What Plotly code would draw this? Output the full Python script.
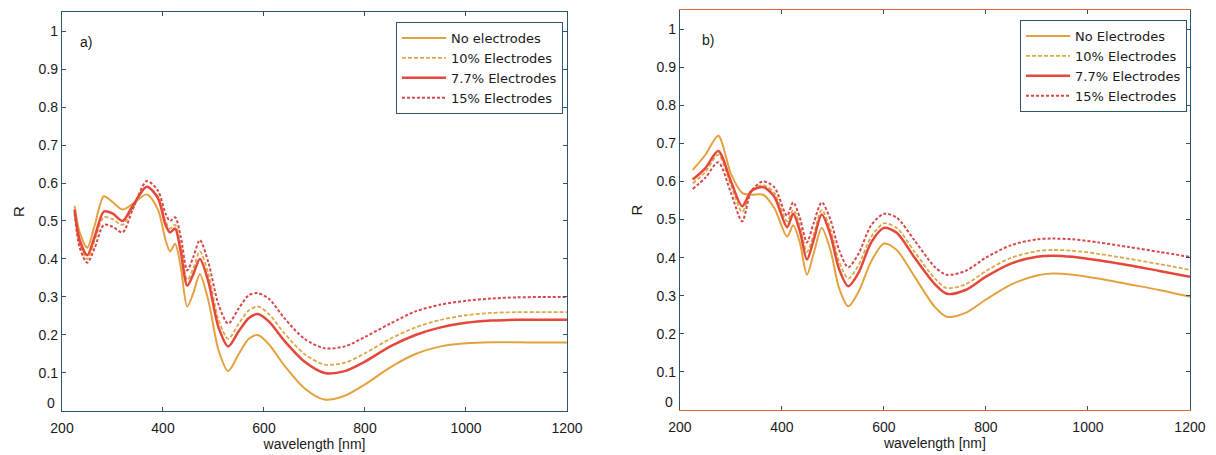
import plotly.graph_objects as go

# ---------------- data: panel a) ----------------
wl_a = [225, 235, 250, 265, 283, 300, 320, 340, 368, 390, 405, 414, 424, 435, 448, 460, 473, 490,
        510, 529, 550, 570, 588, 610, 640, 680, 720, 760, 800, 850, 900, 950, 1000, 1050, 1100, 1150, 1200]
a_none = [0.54, 0.47, 0.43, 0.49, 0.565, 0.55, 0.53, 0.545, 0.57, 0.53, 0.45, 0.42, 0.44, 0.38, 0.275, 0.31, 0.36, 0.29,
          0.16, 0.105, 0.15, 0.19, 0.2, 0.175, 0.12, 0.06, 0.03, 0.04, 0.07, 0.115, 0.15, 0.17, 0.178, 0.181, 0.181, 0.18, 0.18]
a_10 = [0.525, 0.44, 0.40, 0.45, 0.51, 0.505, 0.49, 0.535, 0.59, 0.565, 0.5, 0.48, 0.49, 0.435, 0.345, 0.375, 0.42, 0.36,
        0.24, 0.19, 0.23, 0.265, 0.275, 0.255, 0.205, 0.15, 0.122, 0.127, 0.152, 0.19, 0.22, 0.24, 0.252, 0.258, 0.26, 0.26, 0.26]
a_77 = [0.53, 0.45, 0.41, 0.46, 0.525, 0.52, 0.5, 0.54, 0.59, 0.56, 0.49, 0.47, 0.48, 0.42, 0.33, 0.36, 0.4, 0.34,
        0.22, 0.17, 0.21, 0.245, 0.255, 0.235, 0.185, 0.13, 0.1, 0.105, 0.13, 0.17, 0.2, 0.22, 0.232, 0.238, 0.24, 0.24, 0.24]
a_15 = [0.52, 0.43, 0.39, 0.43, 0.49, 0.485, 0.47, 0.53, 0.605, 0.58, 0.52, 0.5, 0.51, 0.46, 0.37, 0.405, 0.45, 0.39,
        0.28, 0.23, 0.27, 0.305, 0.31, 0.295, 0.245, 0.19, 0.165, 0.17, 0.195, 0.23, 0.262, 0.28, 0.29, 0.296, 0.299, 0.3, 0.3]

# ---------------- data: panel b) ----------------
wl_b = [225, 250, 275, 300, 322, 340, 363, 385, 410, 422, 435, 449, 462, 478, 495, 512, 530, 550, 575, 600,
        625, 660, 700, 723, 760, 800, 850, 900, 930, 970, 1020, 1080, 1140, 1200]
b_none = [0.63, 0.67, 0.72, 0.62, 0.57, 0.565, 0.565, 0.53, 0.455, 0.485, 0.44, 0.355, 0.41, 0.478, 0.42, 0.32, 0.272, 0.31, 0.39, 0.437,
          0.42, 0.35, 0.27, 0.245, 0.255, 0.29, 0.33, 0.353, 0.358, 0.355, 0.345, 0.33, 0.315, 0.297]
b_10 = [0.595, 0.625, 0.67, 0.59, 0.52, 0.575, 0.59, 0.57, 0.495, 0.525, 0.485, 0.415, 0.46, 0.525, 0.475, 0.39, 0.345, 0.38, 0.455, 0.49,
        0.478, 0.415, 0.345, 0.32, 0.33, 0.365, 0.4, 0.417, 0.42, 0.418, 0.41, 0.397, 0.383, 0.368]
b_77 = [0.605, 0.635, 0.68, 0.6, 0.535, 0.575, 0.585, 0.56, 0.48, 0.515, 0.47, 0.395, 0.445, 0.513, 0.46, 0.37, 0.325, 0.36, 0.44, 0.478,
        0.465, 0.4, 0.33, 0.305, 0.315, 0.35, 0.385, 0.402, 0.405, 0.402, 0.393, 0.38, 0.365, 0.35]
b_15 = [0.58, 0.61, 0.65, 0.57, 0.495, 0.575, 0.6, 0.585, 0.51, 0.545, 0.505, 0.44, 0.49, 0.545, 0.5, 0.42, 0.375, 0.41, 0.485, 0.515,
        0.505, 0.445, 0.375, 0.355, 0.365, 0.4, 0.433, 0.448, 0.45, 0.448, 0.44, 0.428, 0.415, 0.402]

names_a = ["No electrodes", "10% Electrodes", "7.7% Electrodes", "15% Electrodes"]
names_b = ["No Electrodes", "10% Electrodes", "7.7% Electrodes", "15% Electrodes"]
x_ticks = [200, 400, 600, 800, 1000, 1200]
y_ticks = [0.1, 0.2, 0.3, 0.4, 0.5, 0.6, 0.7, 0.8, 0.9, 1]
y_ticktext = ["0.1", "0.2", "0.3", "0.4", "0.5", "0.6", "0.7", "0.8", "0.9", "1"]

GOLD = "#E4A23F"
GOLD_D = "#D9A94A"
RED = "#E5473A"
RED_D = "#D8474A"
AXC = "#2C5570"
AXC_B = "#E0603A"
FONT = "Liberation Sans, Arial, sans-serif"
LFONT = "DejaVu Sans, sans-serif"
TXT = "#1a1a1a"

styles = [
    dict(color=GOLD, width=2),
    dict(color=GOLD_D, width=1.8, dash="4px,2px"),
    dict(color=RED, width=2.5),
    dict(color=RED_D, width=2, dash="3px,2px"),
]

fig = go.Figure()
for name, ys, st in zip(names_a, [a_none, a_10, a_77, a_15], styles):
    fig.add_trace(go.Scatter(x=wl_a, y=ys, name=name, mode="lines", line=dict(shape="spline", smoothing=0.8, **st),
                             xaxis="x", yaxis="y", legend="legend"))
for name, ys, st in zip(names_b, [b_none, b_10, b_77, b_15], styles):
    fig.add_trace(go.Scatter(x=wl_b, y=ys, name=name, mode="lines", line=dict(shape="spline", smoothing=0.8, **st),
                             xaxis="x2", yaxis="y2", legend="legend2"))

axis_common = dict(linewidth=1.2, mirror="allticks", ticks="inside", showline=True,
                   ticklen=4, tickcolor=AXC, showgrid=False, zeroline=False, automargin=False,
                   tickfont=dict(family=FONT, size=14, color=TXT))
xcommon = dict(range=[200, 1200], tickvals=x_ticks, ticklabelstandoff=4,
               title=dict(text="wavelength [nm]", standoff=2, font=dict(family=FONT, size=14, color=TXT)),
               **axis_common)
ycommon = dict(range=[0, 1.05], tickvals=y_ticks, ticktext=y_ticktext, linecolor=AXC,
               title=dict(text="R", standoff=10, font=dict(family=FONT, size=15, color=TXT)), **axis_common)

legend_common = dict(bgcolor="white", bordercolor=AXC, borderwidth=1, xanchor="right", yanchor="top",
                     font=dict(family=LFONT, size=13, color=TXT), tracegroupgap=0, itemwidth=44)

zero_font = dict(family=FONT, size=14, color=TXT)

fig.update_layout(
    width=1216, height=455, margin=dict(l=0, r=0, t=0, b=0, autoexpand=False),
    paper_bgcolor="white", plot_bgcolor="white",
    xaxis=dict(domain=[0.0444, 0.4597], anchor="y", linecolor=AXC, **xcommon),
    yaxis=dict(domain=[0.1143, 0.9912], anchor="x", **ycommon),
    xaxis2=dict(domain=[0.5526, 0.9720], anchor="y2", linecolor=AXC_B, **xcommon),
    yaxis2=dict(domain=[0.1165, 0.9956], anchor="x2", **ycommon),
    legend=dict(x=0.4564, y=0.969, **legend_common),
    legend2=dict(x=0.9696, y=0.9736, **legend_common),
    annotations=[
        dict(text="a)", x=248, y=0.97, xref="x", yref="y", showarrow=False,
             font=dict(family=FONT, size=14, color=TXT)),
        dict(text="b)", x=255, y=0.97, xref="x2", yref="y2", showarrow=False,
             font=dict(family=FONT, size=14, color=TXT)),
        # "0" tick label on the y axes (placed slightly above the corner, as in the original)
        dict(text="0", x=0, y=0, xref="x domain", yref="y domain", xanchor="right", yanchor="bottom",
             xshift=-5, yshift=-2, showarrow=False, font=zero_font),
        dict(text="0", x=0, y=0, xref="x2 domain", yref="y2 domain", xanchor="right", yanchor="bottom",
             xshift=-5, yshift=-2, showarrow=False, font=zero_font),
    ],
)

fig.write_html("out.html")
